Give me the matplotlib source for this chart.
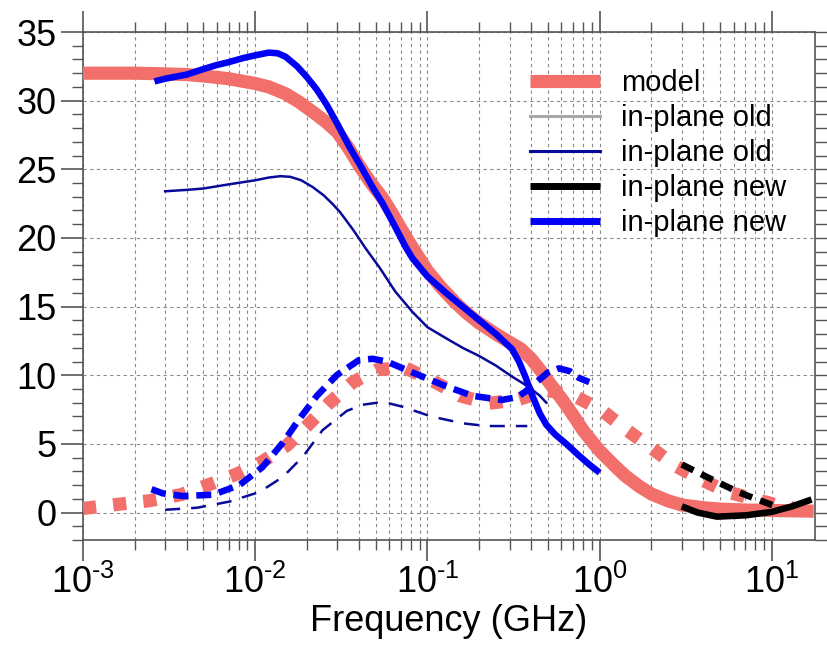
import math
import matplotlib
matplotlib.use('Agg')
import matplotlib.pyplot as plt
from matplotlib.ticker import LogLocator, MultipleLocator, FuncFormatter, NullFormatter
from matplotlib.lines import Line2D

plt.rcParams['font.family'] = ['Liberation Sans', 'DejaVu Sans']
plt.rcParams['mathtext.fontset'] = 'custom'
plt.rcParams['mathtext.rm'] = 'Liberation Sans'
plt.rcParams['mathtext.it'] = 'Liberation Sans:italic'
plt.rcParams['mathtext.bf'] = 'Liberation Sans:bold'
plt.rcParams['axes.unicode_minus'] = False

# ---------------- data ----------------
model_real_f = [0.001, 0.002, 0.003, 0.004, 0.005, 0.007, 0.01, 0.012, 0.015, 0.018, 0.022,
                0.026, 0.03, 0.035, 0.04, 0.047, 0.055, 0.063, 0.07, 0.08, 0.09, 0.1, 0.12,
                0.145, 0.17, 0.2, 0.25, 0.3, 0.35, 0.4, 0.45, 0.5, 0.6, 0.7, 0.8, 0.9, 1.0,
                1.2, 1.4, 1.7, 2.0, 2.5, 3.0, 4.0, 5.0, 7.0, 10.0, 17.5]
model_real = [32.0, 32.0, 31.95, 31.9, 31.8, 31.6, 31.25, 31.0, 30.5, 29.9, 29.1,
              28.4, 27.7, 26.5, 25.3, 24.0, 22.9, 21.7, 20.7, 19.5, 18.5, 17.6, 16.4,
              15.3, 14.5, 13.8, 13.0, 12.4, 11.9, 11.2, 10.4, 9.6, 8.3, 7.1, 6.0, 5.2, 4.5,
              3.5, 2.7, 1.9, 1.35, 0.85, 0.55, 0.35, 0.25, 0.18, 0.15, 0.1]

model_imag_f = [0.001, 0.0016, 0.0024, 0.0037, 0.0053, 0.0078, 0.011, 0.0153, 0.0203, 0.027,
                0.037, 0.051, 0.074, 0.107, 0.155, 0.225, 0.33, 0.5, 0.74, 1.04, 1.44, 2.0,
                2.75, 3.9, 5.5, 8.1, 11.5, 17.0]
model_imag = [0.3, 0.6, 0.85, 1.3, 2.0, 2.8, 3.7, 4.9, 6.4, 8.0,
              9.5, 10.4, 10.55, 9.6, 8.5, 7.95, 8.2, 8.9, 8.4, 7.4, 6.0, 4.7,
              3.4, 2.4, 1.5, 0.95, 0.45, 0.1]

new_real_f = [0.0026, 0.003, 0.004, 0.005, 0.006, 0.007, 0.0085, 0.01, 0.012, 0.0135, 0.015,
              0.0175, 0.02, 0.0228, 0.026, 0.03, 0.035, 0.042, 0.048, 0.055, 0.065, 0.075,
              0.082, 0.1, 0.128, 0.16, 0.2, 0.25, 0.31, 0.34, 0.37, 0.41, 0.45, 0.49, 0.55,
              0.64, 0.75, 0.87, 1.0]
new_real = [31.4, 31.6, 31.9, 32.3, 32.6, 32.8, 33.1, 33.3, 33.5, 33.45, 33.2,
            32.5, 31.7, 30.8, 29.7, 28.3, 26.7, 25.0, 23.7, 22.5, 20.8, 19.3,
            18.5, 17.2, 16.0, 15.0, 14.0, 13.0, 11.9, 11.0, 9.9, 8.4, 7.2, 6.4, 5.7,
            5.0, 4.2, 3.5, 2.9]

new_imag_f = [0.0025, 0.0029, 0.0038, 0.0057, 0.0081, 0.011, 0.0145, 0.018, 0.0228, 0.0297,
              0.040, 0.048, 0.058, 0.082, 0.128, 0.183, 0.27, 0.33, 0.37, 0.43, 0.5, 0.58,
              0.67, 0.76, 0.87]
new_imag = [1.7, 1.4, 1.2, 1.3, 2.0, 3.3, 5.1, 6.8, 8.5, 10.0,
            11.1, 11.2, 11.0, 10.2, 9.2, 8.5, 8.2, 8.4, 8.8, 9.5, 10.2, 10.5,
            10.3, 9.8, 9.5]

old_real_f = [0.003, 0.004, 0.005, 0.007, 0.01, 0.012, 0.014, 0.016, 0.0185, 0.0216, 0.025,
              0.028, 0.031, 0.037, 0.044, 0.053, 0.065, 0.082, 0.1, 0.128, 0.16, 0.2, 0.25,
              0.31, 0.36, 0.41, 0.45, 0.49]
old_real = [23.4, 23.5, 23.6, 23.9, 24.2, 24.4, 24.5, 24.45, 24.2, 23.7, 23.1,
            22.5, 21.9, 20.6, 19.2, 17.8, 16.1, 14.6, 13.5, 12.7, 12.0, 11.4, 10.7,
            9.9, 9.4, 8.9, 8.5, 8.0]

old_imag_f = [0.003, 0.0046, 0.0071, 0.0106, 0.0145, 0.019, 0.0246, 0.034, 0.042, 0.051,
              0.06, 0.072, 0.105, 0.16, 0.22, 0.3, 0.38]
old_imag = [0.2, 0.35, 0.8, 1.5, 2.6, 4.1, 6.0, 7.4, 7.85, 8.0,
            7.95, 7.7, 7.0, 6.5, 6.3, 6.3, 6.3]

hf_real_f = [3.0, 3.7, 4.8, 7.1, 10.0, 13.1, 17.0]
hf_real = [0.45, 0.0, -0.3, -0.2, 0.05, 0.45, 0.95]

hf_imag_f = [3.0, 4.5, 6.5, 9.3, 10.8]
hf_imag = [3.5, 2.4, 1.45, 0.7, 0.4]

legend_labels = ['model', 'in-plane old', 'in-plane old', 'in-plane new', 'in-plane new']

# ---------------- styles ----------------
RED = '#F26F6C'
BLUE = '#0000F5'
NAVY = '#0A0A9A'
BLACK = '#000000'
GRAY = '#A8A8A8'
AX = '#555555'

fig = plt.figure(figsize=(8.28, 6.6), dpi=100)
ax = fig.add_axes([83/828, 120/660, (815-83)/828, (540-32)/660])
ax.set_xscale('log')
ax.set_xlim(1e-3, 17.8)
ax.set_ylim(-2, 35)

# grid
ax.grid(True, which='both', axis='x', color='#8a8a8a', lw=0.8, ls=(0, (3, 3)))
ax.grid(True, which='major', axis='y', color='#8a8a8a', lw=0.8, ls=(0, (3, 3)))
ax.set_axisbelow(True)

# model
ax.plot(model_real_f, model_real, color=RED, lw=9.5, solid_capstyle='butt',
        solid_joinstyle='round', zorder=3)
ax.plot(model_imag_f, model_imag, color=RED, lw=9.5, ls=(0, (1.0, 1.3)), zorder=3)
# old
ax.plot(old_real_f, old_real, color=NAVY, lw=1.8, zorder=4)
ax.plot(old_imag_f, old_imag, color=NAVY, lw=1.8, ls=(0, (6, 4.4)), zorder=4)
# new
ax.plot(new_real_f, new_real, color=BLUE, lw=4.7, solid_capstyle='butt',
        solid_joinstyle='round', zorder=5)
ax.plot(new_imag_f, new_imag, color=BLUE, lw=4.7, ls=(0, (2.3, 1.2)), zorder=5)
ax.plot(hf_real_f, hf_real, color=BLACK, lw=4.7, solid_capstyle='butt',
        solid_joinstyle='round', zorder=5)
ax.plot(hf_imag_f, hf_imag, color=BLACK, lw=4.7, ls=(0, (2.0, 1.3)), zorder=5)


def fmt_pow(v, p):
    e = int(round(math.log10(v)))
    if e < 0:
        return r'$\mathregular{10^{\text{-}%d}}$' % (-e)
    return r'$\mathregular{10^{%d}}$' % e


# ticks
ax.xaxis.set_major_locator(LogLocator(base=10, numticks=10))
ax.xaxis.set_minor_locator(LogLocator(base=10, subs=range(2, 10), numticks=100))
ax.xaxis.set_minor_formatter(NullFormatter())
ax.xaxis.set_major_formatter(FuncFormatter(fmt_pow))
ax.yaxis.set_major_locator(MultipleLocator(5))
ax.yaxis.set_minor_locator(MultipleLocator(1))

ax.tick_params(axis='both', which='both', direction='out', color=AX)
ax.tick_params(axis='x', which='major', length=15, width=1.2, top=True, labelsize=26, pad=3)
ax.tick_params(axis='x', which='minor', length=7.5, width=1.0, top=True)
ax.tick_params(axis='y', which='major', length=16, width=1.2, labelsize=26, pad=3)
ax.tick_params(axis='y', which='minor', length=8, width=1.0)

for s in ax.spines.values():
    s.set_color(AX)
    s.set_linewidth(1.2)

# right-side ticks
ax2 = ax.twinx()
ax2.set_ylim(-2, 35)
ax2.yaxis.set_major_locator(MultipleLocator(5))
ax2.yaxis.set_minor_locator(MultipleLocator(1))
ax2.tick_params(axis='y', which='both', direction='out', length=9, width=1.0,
                color=AX, labelright=False)
for s in ax2.spines.values():
    s.set_visible(False)

ax.set_xlabel('Frequency (GHz)', fontsize=26, labelpad=2)

handles = [
    Line2D([], [], color=RED, lw=9.5, solid_capstyle='butt'),
    Line2D([], [], color=GRAY, lw=2.2),
    Line2D([], [], color=NAVY, lw=2.2),
    Line2D([], [], color=BLACK, lw=5.0, solid_capstyle='butt'),
    Line2D([], [], color=BLUE, lw=5.0, solid_capstyle='butt'),
]
leg = ax.legend(handles, legend_labels, loc='upper left', bbox_to_anchor=(0.611, 0.927),
                frameon=False, fontsize=21, handlelength=2.4, handletextpad=0.7,
                labelspacing=0.24, borderpad=0, borderaxespad=0)
leg.set_zorder(10)

fig.savefig('out.png', dpi=100)
